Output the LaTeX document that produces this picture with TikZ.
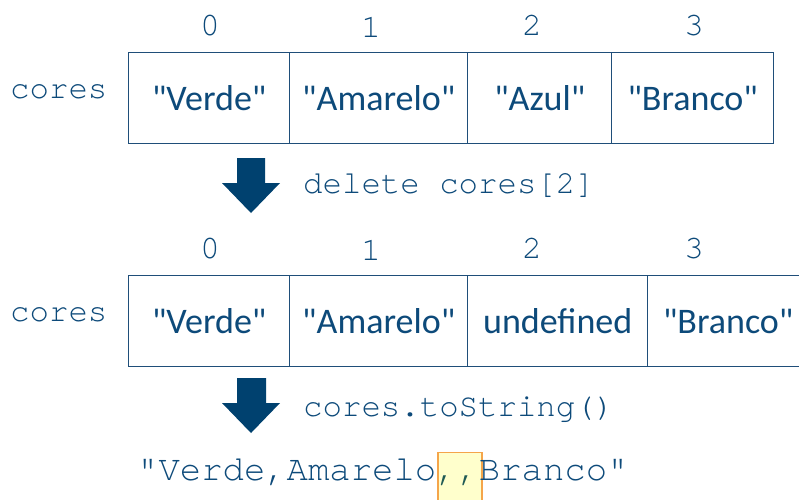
\documentclass[tikz,border=0pt]{standalone}
\usepackage{fontspec}
\newfontfamily\cellfont{Carlito}
\newfontfamily\monofont{TeX Gyre Cursor}
\definecolor{linec}{HTML}{1F4E79}
\definecolor{txtc}{HTML}{0D4A7A}
\definecolor{arrc}{HTML}{00416F}
\definecolor{hlfill}{HTML}{FFFFCC}
\definecolor{hlline}{HTML}{F5A54A}
\definecolor{commac}{HTML}{1F5A55}
\begin{document}
\begin{tikzpicture}[x=1pt,y=-1pt,
  cell/.style={draw=linec, line width=1.4pt, minimum height=91pt, inner sep=0pt,
    text height=25pt, text depth=0pt, anchor=north west, text=txtc,
    font=\cellfont\fontsize{36}{36}\selectfont},
  idx/.style={inner sep=0pt, anchor=base, text=txtc, font=\monofont\fontsize{33}{33}\selectfont},
  code/.style={inner sep=0pt, anchor=base west, text=txtc, font=\monofont\fontsize{32.4}{32.4}\selectfont},
  bigarrow/.style={fill=arrc}]
\useasboundingbox (0,0) rectangle (799,499);
\clip (0,0) rectangle (799,499);
\fill[white] (0,0) rectangle (799,499);

% top array
\node[code] (lab1) at (10,98) {cores};
\node[cell, minimum width=161pt] (a0) at (128,52) {"Verde"};
\node[cell, minimum width=178pt] (a1) at (289,52) {"Amarelo"};
\node[cell, minimum width=144pt] (a2) at (467,52) {"Azul"};
\node[cell, minimum width=162pt] (a3) at (611,52) {"Branco"};
\node[idx] (i0) at (210,35) {0};
\node[idx] (i1) at (371,37) {1};
\node[idx] (i2) at (532,35) {2};
\node[idx] (i3) at (694,35) {3};

% first arrow
\fill[bigarrow] (237,158) -- (265,158) -- (265,183) -- (280,183) -- (251,213) -- (222,183) -- (237,183) -- cycle;
\node[code] (op1) at (303,193) {delete cores[2]};

% bottom array
\node[code] (lab2) at (10,321) {cores};
\node[cell, minimum width=161pt] (b0) at (128,275) {"Verde"};
\node[cell, minimum width=178pt] (b1) at (289,275) {"Amarelo"};
\node[cell, minimum width=180pt] (b2) at (467,275) {undefined};
\node[cell, minimum width=161pt] (b3) at (647,275) {"Branco"};
\node[idx] (j0) at (210,258) {0};
\node[idx] (j1) at (371,260) {1};
\node[idx] (j2) at (532,258) {2};
\node[idx] (j3) at (694,258) {3};

% second arrow
\fill[bigarrow] (237,378) -- (266,378) -- (266,403) -- (280,403) -- (251,433) -- (222,403) -- (237,403) -- cycle;
\node[code] (op2) at (303,416) {cores.toString()};

% result
\filldraw[fill=hlfill, draw=hlline, line width=1.2pt] (438,452.5) rectangle (482,505);
\node[code, font=\monofont\fontsize{35.6}{35.6}\selectfont] (res) at (137,480) {"Verde,Amarelo{\color{commac},,}Branco"};
\end{tikzpicture}
\end{document}
